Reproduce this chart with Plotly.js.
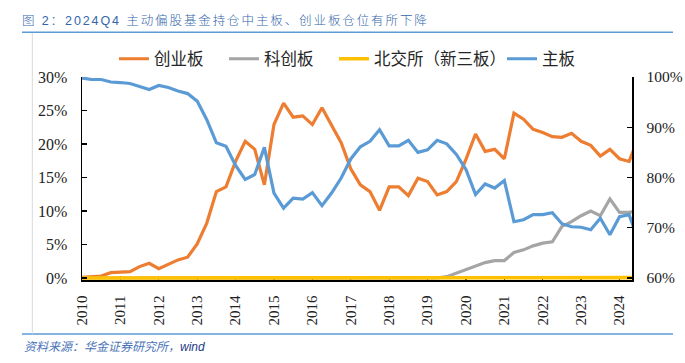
<!DOCTYPE html>
<html><head><meta charset="utf-8">
<script src="https://cdn.plot.ly/plotly-3.0.1.min.js"></script>
<style>
html,body{margin:0;padding:0;background:#fff;}
#chart{width:685px;height:363px;}
.gtitle{letter-spacing:1.9px;}
</style></head><body><div id="chart"></div>
<script>
// Quarterly observation dates (x categories)
const quarters = [
 '2010Q2','2010Q3','2010Q4',
 '2011Q1','2011Q2','2011Q3','2011Q4',
 '2012Q1','2012Q2','2012Q3','2012Q4',
 '2013Q1','2013Q2','2013Q3','2013Q4',
 '2014Q1','2014Q2','2014Q3','2014Q4',
 '2015Q1','2015Q2','2015Q3','2015Q4',
 '2016Q1','2016Q2','2016Q3','2016Q4',
 '2017Q1','2017Q2','2017Q3','2017Q4',
 '2018Q1','2018Q2','2018Q3','2018Q4',
 '2019Q1','2019Q2','2019Q3','2019Q4',
 '2020Q1','2020Q2','2020Q3','2020Q4',
 '2021Q1','2021Q2','2021Q3','2021Q4',
 '2022Q1','2022Q2','2022Q3','2022Q4',
 '2023Q1','2023Q2','2023Q3','2023Q4',
 '2024Q1','2024Q2','2024Q3','2024Q4'
];
// 创业板 (left axis, %)
const chinext = [0.1,0.2,0.3,0.8,0.9,0.95,1.7,2.2,1.4,2.0,2.7,3.1,5.1,8.2,12.9,
 13.6,17.4,20.4,19.2,13.9,22.9,26.1,24.0,24.2,22.9,25.4,22.9,20.2,16.3,
 13.9,12.9,10.1,13.6,13.6,12.3,14.9,14.4,12.4,12.9,14.4,17.7,21.5,18.9,
 19.2,17.8,24.6,23.7,22.2,21.7,21.1,21.0,21.6,20.4,19.8,18.2,19.2,17.8,17.4,21.0];
// 科创板 (left axis, %)
const star = [0,0,0,0,0,0,0,0,0,0,0,0,0,0,0,
 0,0,0,0,0,0,0,0,0,0,0,0,0,0,
 0,0,0,0,0,0,0,0,0,0.2,0.7,1.2,1.8,2.3,
 2.6,2.6,3.8,4.2,4.8,5.2,5.4,7.7,8.4,9.3,10.0,9.3,11.8,9.8,9.8,10.0];
// 北交所（新三板） (left axis, %)
const bse = [0,0,0,0,0,0,0,0,0,0,0,0,0,0,0,
 0,0,0,0,0,0,0,0,0,0,0,0,0,0,
 0,0,0,0,0,0,0,0,0,0,0,0,0,0,
 0,0,0,0,0.02,0.03,0.03,0.04,0.05,0.05,0.05,0.05,0.05,0.05,0.05,0.05];
// 主板 (right axis, %)
const mainboard = [99.8,99.5,99.5,99.0,98.9,98.7,98.1,97.5,98.3,97.9,97.2,96.7,95.2,91.5,86.9,
 86.2,82.4,79.6,80.6,86.0,76.9,73.9,75.9,75.7,77.0,74.4,76.9,79.9,83.7,
 86.1,87.2,89.5,86.3,86.3,87.4,85.0,85.5,87.4,86.7,84.6,81.6,76.6,78.7,
 77.9,79.4,71.2,71.6,72.6,72.6,73.0,70.8,70.2,70.1,69.6,71.9,68.6,72.2,72.6,67.3];
const yearTickCats = ['2010Q2','2011Q2','2012Q2','2013Q2','2014Q2','2015Q2','2016Q2','2017Q2','2018Q2','2019Q2','2020Q2','2021Q2','2022Q2','2023Q2','2024Q2'];
const yearLabels = ['2010','2011','2012','2013','2014','2015','2016','2017','2018','2019','2020','2021','2022','2023','2024'];
const seriesNames = ['创业板','科创板','北交所（新三板）','主板'];
const leftTicks = [0,5,10,15,20,25,30];
const rightTicks = [60,70,80,90,100];

const W=685,H=363,L=82,R=53,T=77,B=83;
const pw=W-L-R, ph=H-T-B;
const xp = px => (px-L)/pw;
const yp = py => (H-B-py)/ph;

const serif = 'Liberation Serif, Times New Roman, serif';
const cjk = 'Liberation Sans, Noto Sans CJK SC, sans-serif';

const traces = [
 {x:quarters,y:chinext,name:seriesNames[0],type:'scatter',mode:'lines',line:{color:'#ED7D31',width:3.2},yaxis:'y',legend:'legend'},
 {x:quarters,y:star,name:seriesNames[1],type:'scatter',mode:'lines',line:{color:'#A5A5A5',width:3.2},yaxis:'y',legend:'legend2'},
 {x:quarters,y:bse,name:seriesNames[2],type:'scatter',mode:'lines',line:{color:'#FFC000',width:3.6},yaxis:'y',legend:'legend3'},
 {x:quarters,y:mainboard,name:seriesNames[3],type:'scatter',mode:'lines',line:{color:'#5B9BD5',width:3.2},yaxis:'y2',legend:'legend4'}
];
const legFont = {family:cjk,size:16.5,color:'#262626'};
function leg(px){return {x:px/W,xref:'container',xanchor:'left',y:1-59/H,yref:'container',yanchor:'middle',orientation:'h',font:legFont,bgcolor:'rgba(0,0,0,0)',borderwidth:0};}
const layout = {
 width:W,height:H,margin:{l:L,r:R,t:T,b:B,pad:0},
 paper_bgcolor:'#fff',plot_bgcolor:'#fff',
 title:{text:'图 2：2024Q4 主动偏股基金持仓中主板、创业板仓位有所下降',x:22/W,xref:'container',xanchor:'left',y:1-21/H,yref:'container',yanchor:'middle',font:{family:cjk,size:12.5,weight:300,color:'#3366AA'}},
 showlegend:true,
 legend:leg(114),legend2:leg(224),legend3:leg(334),legend4:leg(502),
 xaxis:{type:'category',categoryorder:'array',categoryarray:quarters,range:[0,57.3],tickmode:'array',tickvals:yearTickCats,ticktext:yearLabels,tickangle:-90,
  ticks:'inside',ticklen:4,tickwidth:1.3,tickcolor:'#000',showline:true,linecolor:'#000',linewidth:1.5,showgrid:false,zeroline:false,layer:'below traces',
  tickfont:{family:serif,size:15,color:'#222'},ticklabelstandoff:8,fixedrange:true},
 yaxis:{range:[-0.2985,30],tickmode:'array',tickvals:leftTicks,ticktext:leftTicks.map(v=>v+'%'),ticks:'inside',ticklen:5,tickwidth:1.3,tickcolor:'#000',
  showline:true,linecolor:'#000',linewidth:1.5,showgrid:false,zeroline:false,tickfont:{family:serif,size:16,color:'#222'},ticklabelstandoff:10,fixedrange:true},
 yaxis2:{range:[59.602,100],overlaying:'y',side:'right',tickmode:'array',tickvals:rightTicks,ticktext:rightTicks.map(v=>v+'%'),ticks:'inside',ticklen:5,tickwidth:1.3,tickcolor:'#000',
  showline:true,linecolor:'#000',linewidth:1.5,showgrid:false,zeroline:false,tickfont:{family:serif,size:15.5,color:'#222'},ticklabelstandoff:10,fixedrange:true},
 shapes:[
  {type:'line',xref:'paper',yref:'paper',x0:xp(22),x1:xp(673),y0:yp(32.3),y1:yp(32.3),line:{color:'#5B9BD5',width:1.5}},
  {type:'line',xref:'paper',yref:'paper',x0:xp(22),x1:xp(673),y0:yp(334),y1:yp(334),line:{color:'#5B9BD5',width:1.5}},
  {type:'line',xref:'paper',yref:'paper',x0:xp(32.3),x1:xp(32.3),y0:yp(33),y1:yp(334),line:{color:'#D9D9D9',width:1}}
 ],
 annotations:[
  {xref:'paper',yref:'paper',x:xp(22),y:yp(347),xanchor:'left',yanchor:'middle',showarrow:false,
   text:'<i>资料来源：华金证券研究所，<span style="color:#1F3C88">wind</span></i>',font:{family:cjk,size:12,color:'#4A74B8'}}
 ]
};
Plotly.newPlot('chart',traces,layout,{displayModeBar:false,staticPlot:true});
</script></body></html>
